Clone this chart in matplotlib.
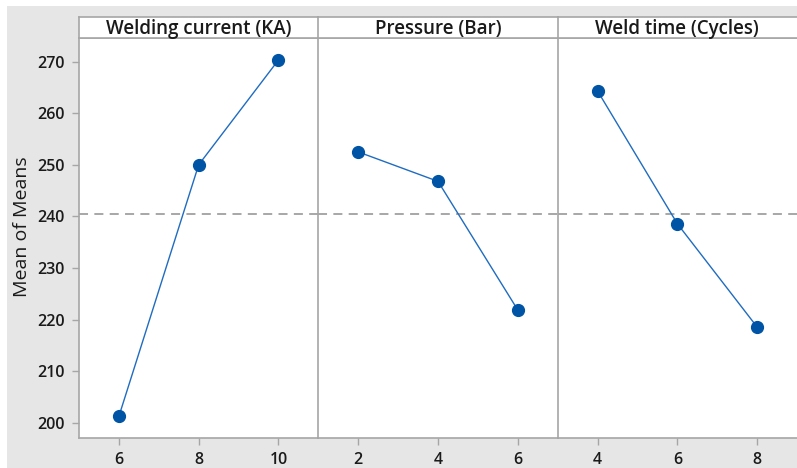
import matplotlib.pyplot as plt
from matplotlib.patches import Rectangle

# factor levels and mean of means for each factor
factors = ["Welding current (KA)", "Pressure (Bar)", "Weld time (Cycles)"]
current_levels = [6, 8, 10]
current_means = [201.3, 250.0, 270.3]
pressure_levels = [2, 4, 6]
pressure_means = [252.5, 246.8, 221.9]
time_levels = [4, 6, 8]
time_means = [264.3, 238.6, 218.6]
grand_mean = 240.5
y_ticks = [200, 210, 220, 230, 240, 250, 260, 270]

W, H = 797, 468
plt.rcParams['font.family'] = ['Open Sans', 'DejaVu Sans']

fig = plt.figure(figsize=(W / 100, H / 100), dpi=100)
fig.patch.set_facecolor('white')
fig.add_artist(Rectangle((7 / W, 0), 1, (H - 6) / H, transform=fig.transFigure,
                         facecolor='#e6e6e6', edgecolor='none', zorder=-10))

edge = '#a6a6a6'
dot = '#0054a6'
line = '#1f6cc0'

panel_w = (797 - 79) / 3
data = [(current_levels, current_means), (pressure_levels, pressure_means),
        (time_levels, time_means)]

for i, (name, (lv, mn)) in enumerate(zip(factors, data)):
    x0 = 79 + i * panel_w
    ax = fig.add_axes([x0 / W, (H - 438.3) / H, panel_w / W, 400 / H])
    ax.set_facecolor('white')
    ax.plot(lv, mn, color=line, lw=1.0, zorder=2)
    ax.plot(lv, mn, 'o', color=dot, ms=8.5, zorder=3)
    ax.axhline(grand_mean, color='#a0a0a0', lw=1.3, ls=(0, (5, 3.5)), zorder=1)
    ax.set_xlim(lv[0] - 1, lv[-1] + 1)
    ax.set_ylim(197.05, 274.5)
    ax.set_xticks(lv)
    ax.set_yticks(y_ticks)
    for s in ax.spines.values():
        s.set_color(edge)
        s.set_linewidth(1.2)
    ax.spines['right'].set_visible(False)
    ax.tick_params(axis='both', direction='out', length=5, width=1, color=edge,
                   labelsize=11.5, labelcolor='#1a1a1a', pad=5)
    for lab in ax.get_xticklabels() + ax.get_yticklabels():
        lab.set_fontweight('semibold')
    if i > 0:
        ax.tick_params(axis='y', left=False, labelleft=False)

    hd = fig.add_axes([x0 / W, (H - 38.3) / H, panel_w / W, 21 / H])
    hd.set_facecolor('white')
    hd.set_xticks([])
    hd.set_yticks([])
    for s in hd.spines.values():
        s.set_color(edge)
        s.set_linewidth(1.2)
    hd.spines['right'].set_visible(False)
    hd.text(0.5, 0.45, name, ha='center', va='center', fontsize=13.5,
            fontweight='semibold', color='#1a1a1a', transform=hd.transAxes)

fig.text(22 / W, (H - 227) / H, "Mean of Means", rotation=90, ha='center',
         va='center', fontsize=14, color='#1a1a1a')

fig.savefig("out.png", dpi=100)
